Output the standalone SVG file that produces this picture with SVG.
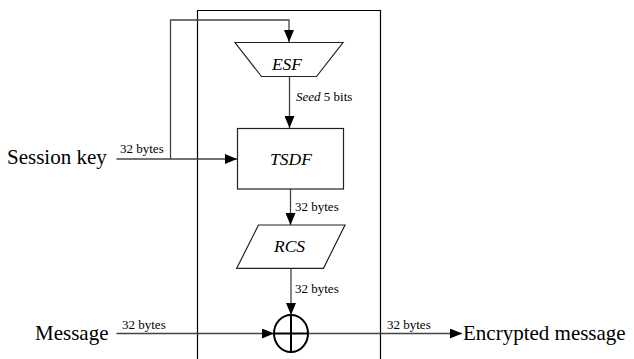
<svg xmlns="http://www.w3.org/2000/svg" width="634" height="359" viewBox="0 0 634 359">
<defs>
<marker id="ah" markerWidth="12" markerHeight="10" refX="12" refY="5" orient="auto" markerUnits="userSpaceOnUse">
<path d="M0,0 L12,5 L0,10 Z" fill="#000"/>
</marker>
<style>
.ln{stroke:#444;stroke-width:1.3;fill:none}
.sh{stroke:#222;stroke-width:1.2;fill:#fff}
text{font-family:"Liberation Serif","Times New Roman",serif;fill:#000}
.big{font-size:21px}
.sm{font-size:13px}
.nm{font-size:17.5px;font-style:italic}
</style>
</defs>
<rect width="634" height="359" fill="#fff"/>
<g id="frame"><path d="M197.5,359 V10.5 H380.5 V359" fill="none" stroke="#000" stroke-width="1.2"/></g>
<g id="connectors">
<path class="ln" d="M116.5,159 H237" marker-end="url(#ah)"/>
<path class="ln" d="M170.5,159 V20 H289 V42" marker-end="url(#ah)"/>
<path class="ln" d="M289.5,77 V128" marker-end="url(#ah)"/>
<path class="ln" d="M290.5,189 V225" marker-end="url(#ah)"/>
<path class="ln" d="M291,268 V315" marker-end="url(#ah)"/>
<path class="ln" d="M116.5,333.5 H274" marker-end="url(#ah)"/>
<path class="ln" d="M308,333.5 H462" marker-end="url(#ah)"/>
<text class="sm" x="296" y="101"><tspan font-style="italic">Seed</tspan> 5 bits</text>
<text class="sm" x="120" y="153">32 bytes</text>
<text class="sm" x="295" y="211">32 bytes</text>
<text class="sm" x="295" y="293">32 bytes</text>
<text class="sm" x="122" y="329">32 bytes</text>
<text class="sm" x="387" y="329">32 bytes</text>
</g>
<g id="esf"><path class="sh" d="M235,42.5 H343 L316.5,76.5 H261.5 Z"/><text class="nm" x="287" y="69.5" text-anchor="middle">ESF</text></g>
<g id="tsdf"><rect class="sh" x="237.5" y="128.5" width="106" height="60.5"/><text class="nm" x="291" y="165" text-anchor="middle">TSDF</text></g>
<g id="rcs"><path class="sh" d="M258.5,225 H345 L323.5,268.3 H236.7 Z"/><text class="nm" x="289.5" y="252" text-anchor="middle">RCS</text></g>
<g id="xor"><ellipse cx="291" cy="333.5" rx="17" ry="18.5" fill="#fff" stroke="#000" stroke-width="2"/><path d="M275,333.5 H307 M291,316 V351" stroke="#000" stroke-width="2"/></g>
<g id="session-key"><text class="big" x="7" y="164">Session key</text></g>
<g id="message"><text class="big" x="35" y="340">Message</text></g>
<g id="encrypted"><text class="big" x="463" y="340">Encrypted message</text></g>
</svg>
